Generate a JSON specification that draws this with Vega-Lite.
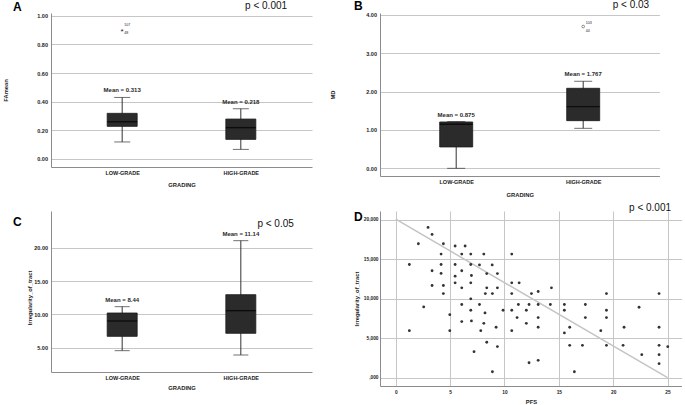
{
  "$schema": "https://vega.github.io/schema/vega-lite/v6.json",
  "autosize": {"type": "pad"},
  "padding": {"left": 2, "top": 0, "right": 0, "bottom": 0},
  "background": "white",
  "columns": 2,
  "spacing": {"row": 35, "column": 68},
  "bounds": "flush",
  "align": "each",
  "datasets": {
    "boxA": [
      {"g": 1, "lo": 0.119, "q1": 0.228, "med": 0.26, "q3": 0.319, "hi": 0.43, "ml": "Mean = 0.313"},
      {"g": 2, "lo": 0.067, "q1": 0.137, "med": 0.219, "q3": 0.279, "hi": 0.351, "ml": "Mean = 0.218"}
    ],
    "boxB": [
      {"g": 1, "lo": 0.0, "q1": 0.557, "med": 1.148, "q3": 1.209, "hi": 1.22, "ml": "Mean = 0.875"},
      {"g": 2, "lo": 1.043, "q1": 1.243, "med": 1.609, "q3": 2.087, "hi": 2.27, "ml": "Mean = 1.767"}
    ],
    "boxC": [
      {"g": 1, "lo": 4.55, "q1": 6.7, "med": 9.0, "q3": 10.2, "hi": 11.15, "ml": "Mean = 8.44"},
      {"g": 2, "lo": 3.9, "q1": 7.15, "med": 10.55, "q3": 12.95, "hi": 21.05, "ml": "Mean = 11.14"}
    ],
    "outA": [{"g": 1, "v": 0.902, "id1": "107", "id2": "48"}],
    "outB": [{"g": 2, "v": 3.697, "id1": "103", "id2": "44"}],
    "fitD": [{"pfs": 0, "irr": 20.1}, {"pfs": 25, "irr": 0.0}],
    "scatter": [
      {"pfs": 2.97, "irr": 19.06}, {"pfs": 3.34, "irr": 18.17}, {"pfs": 2.08, "irr": 16.99}, {"pfs": 4.38, "irr": 16.99},
      {"pfs": 5.46, "irr": 16.7}, {"pfs": 6.38, "irr": 16.7}, {"pfs": 4.17, "irr": 15.68}, {"pfs": 6.07, "irr": 15.68},
      {"pfs": 6.9, "irr": 15.68}, {"pfs": 8.1, "irr": 15.68}, {"pfs": 10.67, "irr": 15.68}, {"pfs": 1.25, "irr": 14.36},
      {"pfs": 4.17, "irr": 14.36}, {"pfs": 5.46, "irr": 14.36}, {"pfs": 6.9, "irr": 14.36}, {"pfs": 7.7, "irr": 14.3},
      {"pfs": 8.87, "irr": 14.3}, {"pfs": 3.34, "irr": 13.56}, {"pfs": 6.07, "irr": 13.56}, {"pfs": 4.17, "irr": 13.22},
      {"pfs": 8.37, "irr": 13.2}, {"pfs": 9.35, "irr": 13.2}, {"pfs": 5.46, "irr": 12.88}, {"pfs": 6.96, "irr": 12.96},
      {"pfs": 3.34, "irr": 11.69}, {"pfs": 4.38, "irr": 11.69}, {"pfs": 5.46, "irr": 12.03}, {"pfs": 6.9, "irr": 12.03},
      {"pfs": 6.07, "irr": 11.4}, {"pfs": 8.37, "irr": 11.4}, {"pfs": 9.35, "irr": 11.4}, {"pfs": 10.67, "irr": 12.03},
      {"pfs": 11.35, "irr": 12.03}, {"pfs": 4.38, "irr": 10.67}, {"pfs": 8.24, "irr": 10.67}, {"pfs": 8.89, "irr": 10.67},
      {"pfs": 10.67, "irr": 10.67}, {"pfs": 12.48, "irr": 10.67}, {"pfs": 13.1, "irr": 10.93}, {"pfs": 14.32, "irr": 11.4},
      {"pfs": 19.38, "irr": 10.67}, {"pfs": 24.22, "irr": 10.67}, {"pfs": 2.57, "irr": 8.98}, {"pfs": 6.9, "irr": 10.0},
      {"pfs": 6.07, "irr": 9.28}, {"pfs": 7.7, "irr": 9.28}, {"pfs": 9.87, "irr": 8.56}, {"pfs": 10.67, "irr": 8.56},
      {"pfs": 11.28, "irr": 9.28}, {"pfs": 12.01, "irr": 8.56}, {"pfs": 12.26, "irr": 9.28}, {"pfs": 13.1, "irr": 9.28},
      {"pfs": 14.22, "irr": 9.28}, {"pfs": 15.51, "irr": 9.28}, {"pfs": 15.51, "irr": 8.56}, {"pfs": 17.44, "irr": 9.28},
      {"pfs": 19.38, "irr": 8.56}, {"pfs": 22.38, "irr": 8.94}, {"pfs": 6.9, "irr": 8.56}, {"pfs": 8.21, "irr": 8.22},
      {"pfs": 4.97, "irr": 8.0}, {"pfs": 11.16, "irr": 7.62}, {"pfs": 13.1, "irr": 7.62}, {"pfs": 17.44, "irr": 7.62},
      {"pfs": 19.38, "irr": 7.62}, {"pfs": 6.07, "irr": 7.12}, {"pfs": 6.96, "irr": 7.2}, {"pfs": 8.1, "irr": 6.9},
      {"pfs": 12.01, "irr": 6.9}, {"pfs": 1.25, "irr": 5.97}, {"pfs": 4.97, "irr": 5.97}, {"pfs": 7.82, "irr": 5.97},
      {"pfs": 9.23, "irr": 6.4}, {"pfs": 10.67, "irr": 5.97}, {"pfs": 13.1, "irr": 6.4}, {"pfs": 15.51, "irr": 5.68},
      {"pfs": 16.0, "irr": 6.4}, {"pfs": 18.86, "irr": 5.97}, {"pfs": 21.0, "irr": 6.4}, {"pfs": 24.22, "irr": 6.4},
      {"pfs": 8.37, "irr": 4.5}, {"pfs": 9.35, "irr": 3.95}, {"pfs": 7.2, "irr": 3.3}, {"pfs": 16.0, "irr": 4.11},
      {"pfs": 17.17, "irr": 4.11}, {"pfs": 19.38, "irr": 4.11}, {"pfs": 20.91, "irr": 4.11}, {"pfs": 24.22, "irr": 4.11},
      {"pfs": 25.02, "irr": 3.94}, {"pfs": 22.63, "irr": 2.92}, {"pfs": 24.22, "irr": 2.92}, {"pfs": 12.26, "irr": 1.9},
      {"pfs": 13.1, "irr": 2.2}, {"pfs": 24.22, "irr": 1.78}, {"pfs": 8.89, "irr": 0.76}, {"pfs": 16.43, "irr": 0.76}
    ]
  },
  "concat": [
    {
      "width": 261, "height": 154,
      "title": {"text": "A", "anchor": "start", "frame": "group", "dx": -38, "offset": -13},
      "data": {"name": "boxA"},
      "layer": [
        {"mark": {"type": "rule", "color": "#333", "strokeWidth": 1},
         "encoding": {
           "x": {"field": "g", "type": "quantitative", "scale": {"domain": [0.4, 2.6], "nice": false, "zero": false, "padding": 0},
                 "axis": {"values": [1, 2], "tickCount": 10, "labelExpr": "datum.value == 1 ? 'LOW-GRADE' : 'HIGH-GRADE'", "title": "GRADING", "grid": false, "titleY": 17}},
           "y": {"field": "lo", "type": "quantitative", "scale": {"domain": [-0.056, 1.02], "nice": false, "zero": false, "padding": 0},
                 "axis": {"values": [0, 0.2, 0.4, 0.6, 0.8, 1], "tickCount": 20, "format": ".2f", "title": "FAmean", "grid": true, "titleX": -42.5}},
           "y2": {"field": "hi"}}},
        {"mark": {"type": "bar", "width": 30, "color": "#2b2b2b", "stroke": "#1a1a1a", "strokeWidth": 0.8},
         "encoding": {"x": {"field": "g", "type": "quantitative"}, "y": {"field": "q1", "type": "quantitative"}, "y2": {"field": "q3"}}},
        {"mark": {"type": "tick", "orient": "horizontal", "size": 30, "thickness": 1.4, "color": "#000"},
         "encoding": {"x": {"field": "g", "type": "quantitative"}, "y": {"field": "med", "type": "quantitative"}}},
        {"mark": {"type": "tick", "orient": "horizontal", "size": 16, "thickness": 1, "color": "#333"},
         "encoding": {"x": {"field": "g", "type": "quantitative"}, "y": {"field": "lo", "type": "quantitative"}}},
        {"mark": {"type": "tick", "orient": "horizontal", "size": 16, "thickness": 1, "color": "#333"},
         "encoding": {"x": {"field": "g", "type": "quantitative"}, "y": {"field": "hi", "type": "quantitative"}}},
        {"mark": {"type": "text", "dy": -7, "baseline": "middle", "fontSize": 6, "fontWeight": "bold", "color": "#2a2a2a"},
         "encoding": {"x": {"field": "g", "type": "quantitative"}, "y": {"field": "hi", "type": "quantitative"}, "text": {"field": "ml"}}},
        {"data": {"name": "outA"}, "mark": {"type": "text", "text": "*", "fontSize": 8, "dy": 2, "baseline": "middle", "color": "#222"},
         "encoding": {"x": {"field": "g", "type": "quantitative"}, "y": {"field": "v", "type": "quantitative"}}},
        {"data": {"name": "outA"}, "mark": {"type": "text", "fontSize": 3.6, "align": "left", "dx": 2, "dy": -4.5, "baseline": "middle", "color": "#222"},
         "encoding": {"x": {"field": "g", "type": "quantitative"}, "y": {"field": "v", "type": "quantitative"}, "text": {"field": "id1"}}},
        {"data": {"name": "outA"}, "mark": {"type": "text", "fontSize": 3.6, "align": "left", "dx": 2, "dy": 3.5, "baseline": "middle", "color": "#222"},
         "encoding": {"x": {"field": "g", "type": "quantitative"}, "y": {"field": "v", "type": "quantitative"}, "text": {"field": "id2"}}},
        {"data": {"values": [{}]}, "mark": {"type": "text", "text": "p < 0.001", "fontSize": 10, "baseline": "alphabetic", "align": "center", "color": "#111"},
         "encoding": {"x": {"datum": 2.213, "type": "quantitative"}, "y": {"datum": 1.051, "type": "quantitative"}}}
      ]
    },
    {
      "width": 279.4, "height": 163,
      "title": {"text": "B", "anchor": "start", "frame": "group", "dx": -26, "offset": -13},
      "data": {"name": "boxB"},
      "layer": [
        {"mark": {"type": "rule", "color": "#333", "strokeWidth": 1},
         "encoding": {
           "x": {"field": "g", "type": "quantitative", "scale": {"domain": [0.4, 2.6], "nice": false, "zero": false, "padding": 0},
                 "axis": {"values": [1, 2], "tickCount": 10, "labelExpr": "datum.value == 1 ? 'LOW-GRADE' : 'HIGH-GRADE'", "title": "GRADING", "grid": false, "titleY": 18}},
           "y": {"field": "lo", "type": "quantitative", "scale": {"domain": [-0.2, 4.05], "nice": false, "zero": false, "padding": 0},
                 "axis": {"values": [0, 1, 2, 3, 4], "tickCount": 20, "format": ".2f", "title": "MD", "grid": true, "titleX": -44.5}},
           "y2": {"field": "hi"}}},
        {"mark": {"type": "bar", "width": 33, "color": "#2b2b2b", "stroke": "#1a1a1a", "strokeWidth": 0.8},
         "encoding": {"x": {"field": "g", "type": "quantitative"}, "y": {"field": "q1", "type": "quantitative"}, "y2": {"field": "q3"}}},
        {"mark": {"type": "tick", "orient": "horizontal", "size": 33, "thickness": 1.4, "color": "#000"},
         "encoding": {"x": {"field": "g", "type": "quantitative"}, "y": {"field": "med", "type": "quantitative"}}},
        {"mark": {"type": "tick", "orient": "horizontal", "size": 18, "thickness": 1, "color": "#333"},
         "encoding": {"x": {"field": "g", "type": "quantitative"}, "y": {"field": "lo", "type": "quantitative"}}},
        {"mark": {"type": "tick", "orient": "horizontal", "size": 18, "thickness": 1, "color": "#333"},
         "encoding": {"x": {"field": "g", "type": "quantitative"}, "y": {"field": "hi", "type": "quantitative"}}},
        {"mark": {"type": "text", "dy": -7, "baseline": "middle", "fontSize": 6, "fontWeight": "bold", "color": "#2a2a2a"},
         "encoding": {"x": {"field": "g", "type": "quantitative"}, "y": {"field": "hi", "type": "quantitative"}, "text": {"field": "ml"}}},
        {"data": {"name": "outB"}, "mark": {"type": "point", "shape": "circle", "filled": false, "size": 7, "strokeWidth": 0.8, "color": "#333"},
         "encoding": {"x": {"field": "g", "type": "quantitative"}, "y": {"field": "v", "type": "quantitative"}}},
        {"data": {"name": "outB"}, "mark": {"type": "text", "fontSize": 3.6, "align": "left", "dx": 2.5, "dy": -4, "baseline": "middle", "color": "#222"},
         "encoding": {"x": {"field": "g", "type": "quantitative"}, "y": {"field": "v", "type": "quantitative"}, "text": {"field": "id1"}}},
        {"data": {"name": "outB"}, "mark": {"type": "text", "fontSize": 3.6, "align": "left", "dx": 2.5, "dy": 4.3, "baseline": "middle", "color": "#222"},
         "encoding": {"x": {"field": "g", "type": "quantitative"}, "y": {"field": "v", "type": "quantitative"}, "text": {"field": "id2"}}},
        {"data": {"values": [{}]}, "mark": {"type": "text", "text": "p < 0.03", "fontSize": 10, "baseline": "alphabetic", "align": "center", "color": "#111"},
         "encoding": {"x": {"datum": 2.376, "type": "quantitative"}, "y": {"datum": 4.173, "type": "quantitative"}}}
      ]
    },
    {
      "width": 261, "height": 161,
      "title": {"text": "C", "anchor": "start", "frame": "group", "dx": -38, "offset": -18},
      "data": {"name": "boxC"},
      "layer": [
        {"mark": {"type": "rule", "color": "#333", "strokeWidth": 1},
         "encoding": {
           "x": {"field": "g", "type": "quantitative", "scale": {"domain": [0.4, 2.6], "nice": false, "zero": false, "padding": 0},
                 "axis": {"values": [1, 2], "tickCount": 10, "labelExpr": "datum.value == 1 ? 'LOW-GRADE' : 'HIGH-GRADE'", "title": "GRADING", "grid": false, "titleY": 15.6}},
           "y": {"field": "lo", "type": "quantitative", "scale": {"domain": [1.35, 25.5], "nice": false, "zero": false, "padding": 0},
                 "axis": {"values": [5, 10, 15, 20], "tickCount": 20, "format": ".2f", "title": "Irregularity_of_tract", "grid": true, "titleX": -18.5, "titleY": 86.4}},
           "y2": {"field": "hi"}}},
        {"mark": {"type": "bar", "width": 30, "color": "#2b2b2b", "stroke": "#1a1a1a", "strokeWidth": 0.8},
         "encoding": {"x": {"field": "g", "type": "quantitative"}, "y": {"field": "q1", "type": "quantitative"}, "y2": {"field": "q3"}}},
        {"mark": {"type": "tick", "orient": "horizontal", "size": 30, "thickness": 1.4, "color": "#000"},
         "encoding": {"x": {"field": "g", "type": "quantitative"}, "y": {"field": "med", "type": "quantitative"}}},
        {"mark": {"type": "tick", "orient": "horizontal", "size": 15, "thickness": 1, "color": "#333"},
         "encoding": {"x": {"field": "g", "type": "quantitative"}, "y": {"field": "lo", "type": "quantitative"}}},
        {"mark": {"type": "tick", "orient": "horizontal", "size": 15, "thickness": 1, "color": "#333"},
         "encoding": {"x": {"field": "g", "type": "quantitative"}, "y": {"field": "hi", "type": "quantitative"}}},
        {"mark": {"type": "text", "dy": -6.5, "baseline": "middle", "fontSize": 6, "fontWeight": "bold", "color": "#2a2a2a"},
         "encoding": {"x": {"field": "g", "type": "quantitative"}, "y": {"field": "hi", "type": "quantitative"}, "text": {"field": "ml"}}},
        {"data": {"values": [{}]}, "mark": {"type": "text", "text": "p < 0.05", "fontSize": 10, "baseline": "alphabetic", "align": "center", "color": "#111"},
         "encoding": {"x": {"datum": 2.293, "type": "quantitative"}, "y": {"datum": 23.1, "type": "quantitative"}}}
      ]
    },
    {
      "width": 302, "height": 175,
      "title": {"text": "D", "anchor": "start", "frame": "group", "dx": -26, "offset": -21},
      "layer": [
        {"data": {"name": "fitD"}, "mark": {"type": "line", "color": "#c4c4c4", "strokeWidth": 1.5},
         "encoding": {
           "x": {"field": "pfs", "type": "quantitative", "scale": {"domain": [-1.45, 26.33], "nice": false, "zero": false, "padding": 0},
                 "axis": {"values": [0, 5, 10, 15, 20, 25], "tickCount": 20, "title": "PFS", "grid": true, "labelPadding": 3, "titleY": 15, "labelFontSize": 4.8}},
           "y": {"field": "irr", "type": "quantitative", "scale": {"domain": [-1.05, 21.14], "nice": false, "zero": false, "padding": 0},
                 "axis": {"values": [0, 5, 10, 15, 20], "tickCount": 20, "labelExpr": "datum.value == 0 ? ',000' : replace(format(datum.value, '.3f'), '.', ',')", "title": "Irregularity_of_tract", "grid": true, "labelPadding": 2, "labelFontSize": 4.8, "titleX": -21}}}},
        {"data": {"name": "scatter"}, "mark": {"type": "circle", "size": 8, "color": "#333", "opacity": 1},
         "encoding": {"x": {"field": "pfs", "type": "quantitative"}, "y": {"field": "irr", "type": "quantitative"}}},
        {"data": {"values": [{}]}, "mark": {"type": "text", "text": "p < 0.001", "fontSize": 10, "baseline": "alphabetic", "align": "center", "color": "#111"},
         "encoding": {"x": {"datum": 23.39, "type": "quantitative"}, "y": {"datum": 21.18, "type": "quantitative"}}}
      ]
    }
  ],
  "config": {
    "font": "Liberation Sans",
    "view": {"stroke": null},
    "title": {"font": "Liberation Sans", "fontSize": 12, "fontWeight": "bold", "color": "#000", "baseline": "bottom"},
    "text": {"font": "Liberation Sans"},
    "axis": {
      "labelFont": "Liberation Sans", "titleFont": "Liberation Sans",
      "labelFontWeight": "bold", "titleFontWeight": "bold",
      "labelFontSize": 5.5, "titleFontSize": 5.8,
      "labelColor": "#222", "titleColor": "#222",
      "domainColor": "#8c8c8c", "domainWidth": 1,
      "gridColor": "#c6c6c6", "gridWidth": 1,
      "ticks": false, "tickSize": 0,
      "labelPadding": 3.5,
      "labelOverlap": false,
      "labelFlush": false,
      "titleBaseline": "middle"
    },
    "axisY": {"titleBaseline": "bottom"}
  }
}
